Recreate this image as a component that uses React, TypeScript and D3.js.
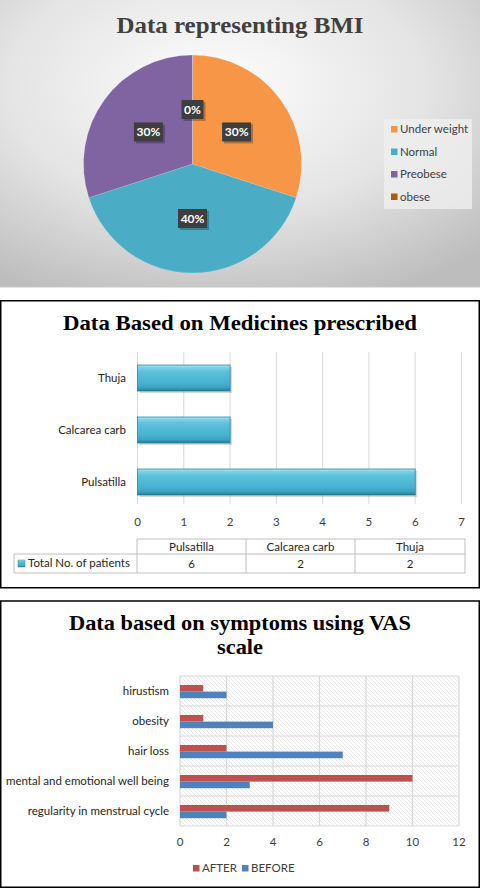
import React from 'react';
import * as d3 from 'd3';

// ---------- Data ----------
const bmiCategories = ['Under weight', 'Normal', 'Preobese', 'obese'];
const bmiValues = [30, 40, 30, 0];
const bmiColors = ['#F79646', '#4BACC6', '#8064A2', '#B65708'];

const medicineCategories = ['Thuja', 'Calcarea carb', 'Pulsatilla']; // top -> bottom
const tableOrder = ['Pulsatilla', 'Calcarea carb', 'Thuja'];
const medicinePatients: Record<string, number> = { Pulsatilla: 6, 'Calcarea carb': 2, Thuja: 2 };
const medicineTicks = [0, 1, 2, 3, 4, 5, 6, 7];
const medicineSeries = 'Total  No. of patients';

const symptomCategories = [
  'hirustism',
  'obesity',
  'hair loss',
  'mental and emotional well being',
  'regularity in menstrual cycle',
];
const afterValues = [1, 1, 2, 10, 9];
const beforeValues = [2, 4, 7, 3, 2];
const vasTicks = [0, 2, 4, 6, 8, 10, 12];
const vasSeries = ['AFTER', 'BEFORE'];
const vasColors = ['#C0504D', '#4F81BD'];

const LABEL_FONT = 'Lato, "Noto Sans", sans-serif';
const TITLE_FONT = '"Liberation Serif", "DejaVu Serif", serif';

function BmiPanel() {
  const cx = 192.5, cy = 164, r = 109;
  const pie = d3.pie<number>().sort(null).value((d) => d)(bmiValues);
  const arc = d3.arc<d3.PieArcDatum<number>>().innerRadius(0).outerRadius(r);
  const total = d3.sum(bmiValues);
  const labels = pie.map((p, i) => ({ p, i, text: Math.round((p.data / total) * 100) + '%' }));
  labels.sort((a, b) => (a.p.data === 0 ? 1 : 0) - (b.p.data === 0 ? 1 : 0));
  return (
    <g>
      <defs>
        <radialGradient id="bmiBg" cx="0.45" cy="0.3" r="0.8">
          <stop offset="0" stopColor="#fdfdfd" />
          <stop offset="0.55" stopColor="#e4e4e4" />
          <stop offset="1" stopColor="#bdbdbd" />
        </radialGradient>
        <pattern id="dots" width="2" height="2" patternUnits="userSpaceOnUse">
          <rect width="2" height="2" fill="#3a3a3a" />
          <rect width="1" height="1" fill="#4a4a4a" />
        </pattern>
      </defs>
      <rect x={0} y={0} width={480} height={287} fill="url(#bmiBg)" />
      <line x1={0} x2={480} y1={287} y2={287} stroke="#c8c8c8" strokeWidth={1} />
      <text x={240} y={33} textAnchor="middle" fontFamily={TITLE_FONT} fontWeight="bold" fontSize={24}
        fill="#404040" textLength={247} lengthAdjust="spacingAndGlyphs">Data representing BMI</text>
      <g transform={`translate(${cx},${cy})`}>
        {pie.map((p, i) => (
          <path key={i} d={arc(p) || ''} fill={bmiColors[i]} stroke="#ffffff" strokeOpacity={0.25} strokeWidth={0.5} />
        ))}
        {labels.map(({ p, i, text }) => {
          const [lx, ly] = arc.centroid(p);
          const w = text.length * 7 + 8;
          const h = 19;
          return (
            <g key={'l' + i} transform={`translate(${lx},${ly})`}>
              <rect x={-w / 2 + 2} y={-h / 2 + 2} width={w} height={h} fill="#000" opacity={0.25} />
              <rect x={-w / 2} y={-h / 2} width={w} height={h} fill="url(#dots)" />
              <text x={0} y={0} dy="0.35em" textAnchor="middle" fill="#ffffff" fontFamily={LABEL_FONT}
                fontWeight="bold" fontSize={12}>{text}</text>
            </g>
          );
        })}
      </g>
      <rect x={384} y={119} width={88} height={90} fill="#efefef" opacity={0.8} />
      {bmiCategories.map((c, i) => {
        const y = 129.3 + i * 22.5;
        return (
          <g key={c}>
            <rect x={391} y={y - 3.3} width={6.5} height={6.5} fill={bmiColors[i]} />
            <text x={400} y={y} dy="0.35em" fontFamily={LABEL_FONT} fontSize={11.5} fill="#404040">{c}</text>
          </g>
        );
      })}
    </g>
  );
}

function MedicinePanel() {
  const x = d3.scaleLinear().domain([0, 7]).range([137.5, 461.5]);
  const y = d3.scaleBand<string>().domain(medicineCategories).range([352, 508]).paddingInner(0.5).paddingOuter(0.25);
  const cols = [137, 246, 355, 465];
  const tableTop = 539, rowMid = 554, tableBot = 573;
  return (
    <g>
      <defs>
        <linearGradient id="barGrad" x1="0" y1="0" x2="0" y2="1">
          <stop offset="0" stopColor="#b4e6f2" />
          <stop offset="0.1" stopColor="#7fd0e4" />
          <stop offset="0.25" stopColor="#5bc2dc" />
          <stop offset="0.7" stopColor="#45b2cf" />
          <stop offset="0.88" stopColor="#3aa2be" />
          <stop offset="1" stopColor="#1e7590" />
        </linearGradient>
      </defs>
      <rect x={0.75} y={300.75} width={478.5} height={287} fill="#ffffff" stroke="#000" strokeWidth={1.5} />
      <text x={240} y={330} textAnchor="middle" fontFamily={TITLE_FONT} fontWeight="bold" fontSize={22}
        fill="#000" textLength={354} lengthAdjust="spacingAndGlyphs">Data Based on Medicines prescribed</text>
      {medicineTicks.map((t) => (
        <g key={t}>
          <line x1={x(t)} x2={x(t)} y1={352} y2={504} stroke="#d9d9d9" strokeWidth={1} />
          <text x={x(t)} y={522} dy="0.35em" textAnchor="middle" fontFamily={LABEL_FONT} fontSize={11.5} fill="#404040">{t}</text>
        </g>
      ))}
      {medicineCategories.map((c) => {
        const y0 = y(c)!;
        const bw = y.bandwidth();
        const x0 = x(0), x1 = x(medicinePatients[c]);
        return (
          <g key={c}>
            <rect x={x0 + 2} y={y0 + 2} width={x1 - x0} height={bw} fill="#000" opacity={0.15} />
            <rect x={x0} y={y0} width={x1 - x0} height={bw} fill="url(#barGrad)" stroke="#2c8aa4" strokeWidth={0.8} />
            <text x={126} y={y0 + bw / 2} dy="0.35em" textAnchor="end" fontFamily={LABEL_FONT} fontSize={11.5} fill="#262626">{c}</text>
          </g>
        );
      })}
      <g stroke="#bfbfbf" strokeWidth={1}>
        <line x1={cols[0]} x2={cols[3]} y1={tableTop} y2={tableTop} />
        <line x1={14} x2={cols[3]} y1={rowMid} y2={rowMid} />
        <line x1={14} x2={cols[3]} y1={tableBot} y2={tableBot} />
        <line x1={14} x2={14} y1={rowMid} y2={tableBot} />
        {cols.map((c) => <line key={c} x1={c} x2={c} y1={tableTop} y2={tableBot} />)}
      </g>
      {tableOrder.map((c, i) => {
        const mx = (cols[i] + cols[i + 1]) / 2;
        return (
          <g key={c}>
            <text x={mx} y={(tableTop + rowMid) / 2} dy="0.35em" textAnchor="middle" fontFamily={LABEL_FONT} fontSize={11.5} fill="#262626">{c}</text>
            <text x={mx} y={(rowMid + tableBot) / 2} dy="0.35em" textAnchor="middle" fontFamily={LABEL_FONT} fontSize={11.5} fill="#262626">{medicinePatients[c]}</text>
          </g>
        );
      })}
      <rect x={18} y={560} width={7} height={7} fill="url(#barGrad)" stroke="#2c8aa4" strokeWidth={0.5} />
      <text x={28} y={(rowMid + tableBot) / 2 - 1} dy="0.35em" fontFamily={LABEL_FONT} fontSize={11.5} fill="#262626">{medicineSeries}</text>
    </g>
  );
}

function SymptomPanel() {
  const x = d3.scaleLinear().domain([0, 12]).range([180, 459]);
  const y = d3.scaleBand<string>().domain(symptomCategories).range([676, 826]);
  const bw = y.bandwidth();
  const inner = d3.scaleBand<string>().domain(vasSeries).range([bw * 0.3, bw * 0.74]);
  const series = [afterValues, beforeValues];
  return (
    <g>
      <defs>
        <pattern id="hatch" width="4" height="4" patternUnits="userSpaceOnUse">
          <rect width="4" height="4" fill="#ffffff" />
          <path d="M0,0 L4,4 M-1,3 L1,5 M3,-1 L5,1" stroke="#dadada" strokeWidth={0.6} />
        </pattern>
      </defs>
      <rect x={0.75} y={601} width={478.5} height={286.25} fill="#ffffff" stroke="#000" strokeWidth={1.5} />
      <text x={240} y={630} textAnchor="middle" fontFamily={TITLE_FONT} fontWeight="bold" fontSize={21}
        fill="#000" textLength={342} lengthAdjust="spacingAndGlyphs">Data based on symptoms using VAS</text>
      <text x={240} y={654} textAnchor="middle" fontFamily={TITLE_FONT} fontWeight="bold" fontSize={21}
        fill="#000" textLength={46} lengthAdjust="spacingAndGlyphs">scale</text>
      <rect x={x(0)} y={676} width={x(12) - x(0)} height={150} fill="url(#hatch)" />
      {vasTicks.map((t) => (
        <g key={t}>
          <line x1={x(t)} x2={x(t)} y1={676} y2={826} stroke="#d9d9d9" strokeWidth={1.2} />
          <text x={x(t)} y={842} dy="0.35em" textAnchor="middle" fontFamily={LABEL_FONT} fontSize={11.5} fill="#404040">{t}</text>
        </g>
      ))}
      {symptomCategories.map((c) => (
        <line key={'h' + c} x1={x(0)} x2={x(12)} y1={y(c)!} y2={y(c)!} stroke="#d9d9d9" strokeWidth={1.2} />
      ))}
      <line x1={x(0)} x2={x(12)} y1={826} y2={826} stroke="#d9d9d9" strokeWidth={1.2} />
      {symptomCategories.map((c, i) => (
        <g key={c}>
          {series.map((vals, s) => (
            <rect key={s} x={x(0)} y={y(c)! + inner(vasSeries[s])!} width={x(vals[i]) - x(0)} height={inner.bandwidth()} fill={vasColors[s]} />
          ))}
          <text x={169} y={y(c)! + bw / 2} dy="0.35em" textAnchor="end" fontFamily={LABEL_FONT} fontSize={11.5} fill="#262626">{c}</text>
        </g>
      ))}
      {vasSeries.map((s, i) => {
        const lx = i === 0 ? 193 : 242;
        return (
          <g key={s}>
            <rect x={lx} y={865} width={6.5} height={6.5} fill={vasColors[i]} />
            <text x={lx + 9} y={868} dy="0.35em" fontFamily={LABEL_FONT} fontSize={11.5} fill="#404040">{s}</text>
          </g>
        );
      })}
    </g>
  );
}

export default function App() {
  return (
    <svg width={480} height={888} style={{ position: 'absolute', left: 0, top: 0, background: '#fff' }}>
      <BmiPanel />
      <MedicinePanel />
      <SymptomPanel />
    </svg>
  );
}
